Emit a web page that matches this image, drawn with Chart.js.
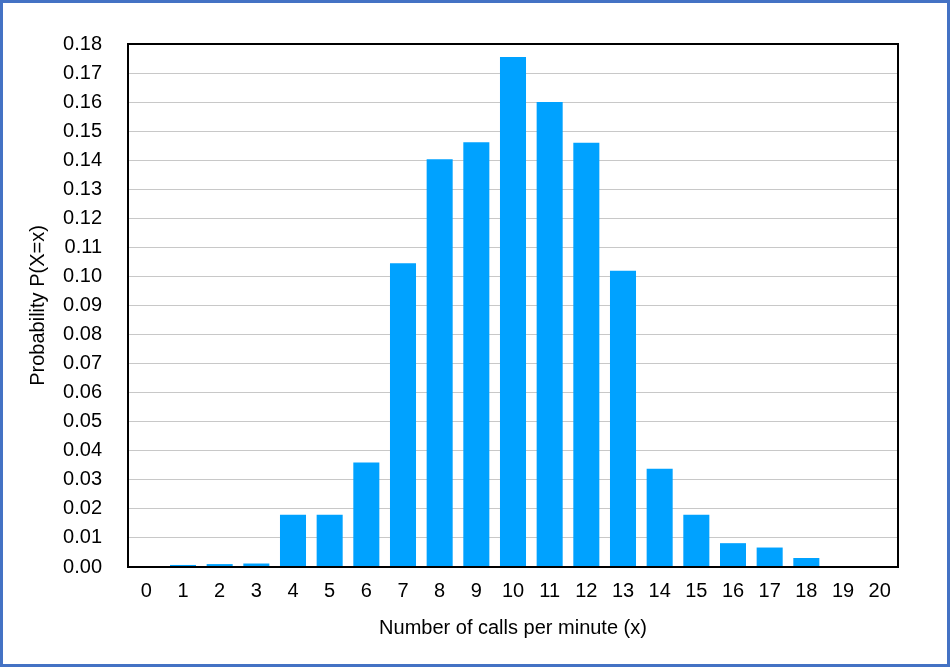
<!DOCTYPE html>
<html>
<head>
<meta charset="utf-8">
<script src="https://cdn.jsdelivr.net/npm/chart.js@4/dist/chart.umd.min.js"></script>
<style>
  html, body { margin: 0; padding: 0; background: #fff; }
  #wrap { position: relative; width: 950px; height: 667px; }
  #chart { position: absolute; left: 0; top: 0; }
  #frame {
    position: absolute; left: 0; top: 0; width: 950px; height: 667px;
    box-sizing: border-box; border: 3px solid #4472C4; pointer-events: none;
  }
</style>
</head>
<body>
<div id="wrap">
  <canvas id="chart" width="950" height="667"></canvas>
  <div id="frame"></div>
</div>
<script>
// calls per minute (x) and P(X=x)
const callCounts = ['0','1','2','3','4','5','6','7','8','9','10','11','12','13','14','15','16','17','18','19','20'];
const probabilities = [0, 0.0007, 0.001, 0.0012, 0.018, 0.018, 0.036, 0.1045, 0.1403, 0.1462, 0.1755,
  0.16, 0.146, 0.102, 0.0338, 0.018, 0.0082, 0.0067, 0.0031, 0, 0];

const fontFamily = '"Liberation Sans", Arial, Helvetica, sans-serif';

// black box round the plot area
const plotBox = {
  id: 'plotBox',
  afterDraw(chart) {
    const { ctx, chartArea } = chart;
    ctx.save();
    ctx.strokeStyle = '#000';
    ctx.lineWidth = 2;
    ctx.strokeRect(chartArea.left, chartArea.top, chartArea.right - chartArea.left, chartArea.bottom - chartArea.top);
    ctx.restore();
  }
};

const ctx = document.getElementById('chart').getContext('2d');
new Chart(ctx, {
  type: 'bar',
  data: {
    labels: callCounts,
    datasets: [{
      label: 'P(X=x)',
      data: probabilities,
      backgroundColor: '#00A2FF',
      borderWidth: 0,
      barPercentage: 0.71,
      categoryPercentage: 1
    }]
  },
  options: {
    responsive: false,
    animation: false,
    layout: { padding: { left: 20, top: 44, right: 52, bottom: 27 } },
    plugins: {
      legend: { display: false },
      tooltip: { enabled: false }
    },
    scales: {
      x: {
        grid: { display: false, drawTicks: false },
        border: { color: '#000', width: 2 },
        ticks: { color: '#000', padding: 12, font: { family: fontFamily, size: 20 } },
        title: {
          display: true,
          text: 'Number of calls per minute (x)',
          color: '#000',
          padding: { top: 1, bottom: 0 },
          font: { family: fontFamily, size: 20 }
        }
      },
      y: {
        min: 0,
        max: 0.18,
        afterFit(scale) { scale.width = 108; },
        grid: { color: '#c8c8c8', lineWidth: 1, drawTicks: false },
        border: { color: '#000', width: 2 },
        ticks: {
          stepSize: 0.01,
          color: '#000',
          padding: 26,
          font: { family: fontFamily, size: 20 },
          callback: v => Number(v).toFixed(2)
        },
        title: {
          display: true,
          text: 'Probability P(X=x)',
          color: '#000',
          padding: { top: 6, bottom: 0 },
          font: { family: fontFamily, size: 20 }
        }
      }
    }
  },
  plugins: [plotBox]
});
</script>
</body>
</html>
